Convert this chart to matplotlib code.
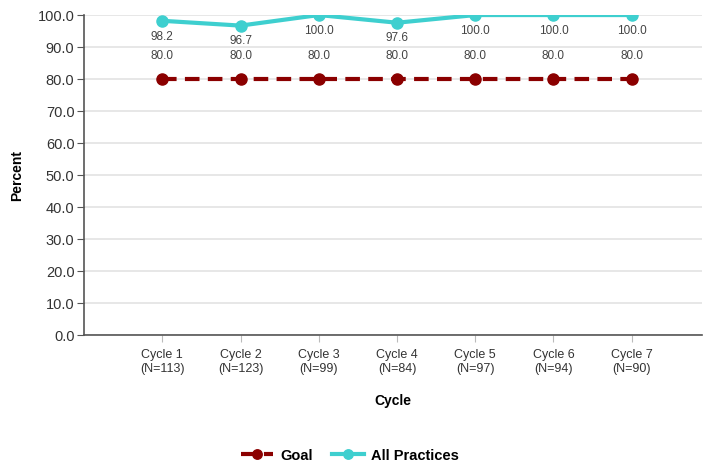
import matplotlib
matplotlib.use("Agg")
import matplotlib.pyplot as plt

plt.rcParams['font.family'] = ['Liberation Sans', 'DejaVu Sans']

cycles = ['Cycle 1\n(N=113)', 'Cycle 2\n(N=123)', 'Cycle 3\n(N=99)', 'Cycle 4\n(N=84)',
          'Cycle 5\n(N=97)', 'Cycle 6\n(N=94)', 'Cycle 7\n(N=90)']
goal = [80.0, 80.0, 80.0, 80.0, 80.0, 80.0, 80.0]
all_practices = [98.2, 96.7, 100.0, 97.6, 100.0, 100.0, 100.0]

goal_color = '#8B0000'
ap_color = '#3ECFCF'
x = list(range(len(cycles)))

fig = plt.figure(figsize=(7.07, 4.70), dpi=100)
ax = fig.add_axes([0.119, 0.287, 0.874, 0.681])

ax.plot(x, goal, color=goal_color, lw=3, ls=(0, (3.5, 2)), marker='o', ms=8,
        label='Goal', zorder=3)
ax.plot(x, all_practices, color=ap_color, lw=3, marker='o', ms=8,
        label='All Practices', zorder=3)

for xi, v in zip(x, goal):
    ax.annotate(f'{v:.1f}', (xi, v), xytext=(0, 12), textcoords='offset points',
                ha='center', va='bottom', fontsize=8.5, color='#444444')
for xi, v in zip(x, all_practices):
    ax.annotate(f'{v:.1f}', (xi, v), xytext=(0, -7), textcoords='offset points',
                ha='center', va='top', fontsize=8.5, color='#444444')

ax.set_xlim(-1, 6.9)
ax.set_ylim(0, 100)
ax.set_yticks(range(0, 101, 10))
ax.set_yticklabels([f'{t:.1f}' for t in range(0, 101, 10)], fontsize=10.5, color='#333333')
ax.set_xticks(x)
ax.set_xticklabels(cycles, fontsize=9, color='#333333')
ax.yaxis.grid(True, color='#E3E3E3', lw=1.2)
ax.set_axisbelow(True)
for s in ['top', 'right']:
    ax.spines[s].set_visible(False)
ax.spines['left'].set_color('#555555')
ax.spines['bottom'].set_color('#555555')
ax.spines['left'].set_linewidth(1.2)
ax.spines['bottom'].set_linewidth(1.2)
ax.tick_params(axis='y', length=5, color='#555555', pad=2)
ax.tick_params(axis='x', length=5, color='#BBBBBB', pad=5)

ax.set_ylabel('Percent', fontsize=10, fontweight='bold', labelpad=10)
ax.set_xlabel('Cycle', fontsize=10, fontweight='bold', labelpad=14)

fig.legend(loc='lower center', bbox_to_anchor=(0.495, -0.012), ncol=2, frameon=False,
           prop={'size': 10.5, 'weight': 'semibold'}, handlelength=2.2, handletextpad=0.5,
           columnspacing=1.3, markerscale=0.85)

fig.savefig('out.png', dpi=100)
